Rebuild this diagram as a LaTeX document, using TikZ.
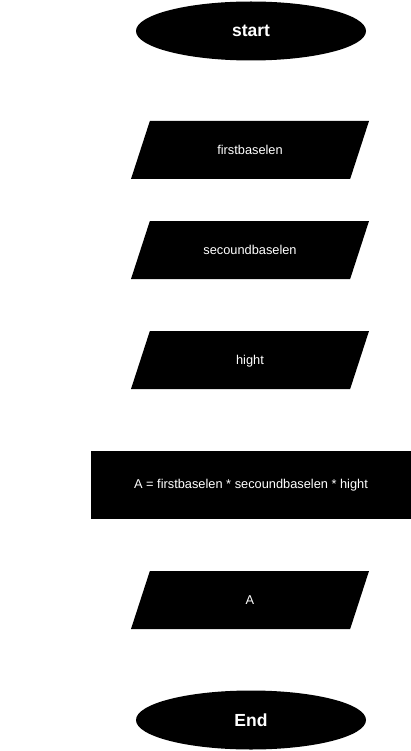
\documentclass[tikz,border=0pt]{standalone}
\usepackage{fontspec}
\setmainfont{Liberation Sans}
\usetikzlibrary{shapes.geometric}

\begin{document}
\begin{tikzpicture}
[
	x	= 1pt,	% one unit per pixel of the page
	y	= -1pt,	% counted from the top down
	%
	%
	% ----------- options for the flowchart --------------
	every node/.style =
	{
		fill		= black,
		text		= white,
		inner sep	= 0pt,
		font		= \fontsize{12.8}{15}\selectfont
	},
	%
	terminal/.style =
	{
		ellipse,
		minimum width	= 230pt,
		minimum height	= 59pt,
		font			= \fontsize{17.5}{20}\selectfont\bfseries
	},
	%
	iobox/.style =
	{
		trapezium,
		trapezium left angle		= 72,
		trapezium right angle		= 108,
		trapezium stretches body	= true,
		text height					= 9pt,
		text depth					= 0pt,
		inner ysep					= 24.5pt,
		minimum width				= 238pt
	},
	%
	processbox/.style =
	{
		rectangle,
		minimum width	= 320pt,
		minimum height	= 68pt
	}
]

\useasboundingbox (0,0) rectangle (411,751);

% actual flowchart
\node [terminal]	(start)	at (251,31)		{start};
\node [iobox]		(first)	at (250,150)	{firstbaselen};
\node [iobox]		(second)	at (250,250)	{secoundbaselen};
\node [iobox]		(hight)	at (250,360)	{hight};
\node [processbox]	(area)	at (251,485)	{A = firstbaselen * secoundbaselen * hight};
\node [iobox]		(result)	at (250,600)	{A};
\node [terminal]	(end)	at (251,720)	{End};

\end{tikzpicture}
\end{document}
